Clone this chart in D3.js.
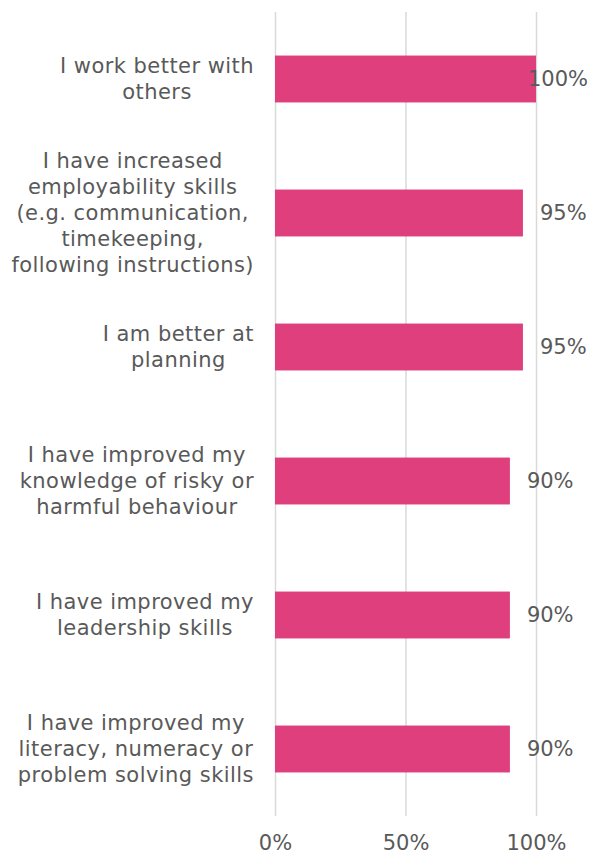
<!DOCTYPE html>
<html>
<head>
<meta charset="utf-8">
<script src="https://cdn.jsdelivr.net/npm/d3@7"></script>
<style>
  html, body { margin: 0; padding: 0; background: #ffffff; }
  svg { display: block; }
  text { font-family: "DejaVu Sans", Verdana, sans-serif; fill: #595959; }
</style>
</head>
<body>
<svg id="chart" width="590" height="854"></svg>
<script>
// Survey statements (line breaks as wrapped in the label column)
const categories = [
  "I work better with\nothers",
  "I have increased\nemployability skills\n(e.g. communication,\ntimekeeping,\nfollowing instructions)",
  "I am better at\nplanning",
  "I have improved my\nknowledge of risky or\nharmful behaviour",
  "I have improved my\nleadership skills",
  "I have improved my\nliteracy, numeracy or\nproblem solving skills"
];
// Share of respondents agreeing
const values = [1.00, 0.95, 0.95, 0.90, 0.90, 0.90];
// Axis ticks
const tickValues = [0, 0.5, 1];
const tickLabels = ["0%", "50%", "100%"];

const W = 590, H = 854;
const plot = { left: 275, right: 536, top: 12, bottom: 816 };
const labelRight = 254;
const valueLimit = 588;
const fontSize = 21;
const lineHeight = 26;
const barColor = "#E03F7E";

const svg = d3.select("#chart");

const x = d3.scaleLinear().domain([0, 1]).range([plot.left, plot.right]);
const y = d3.scaleBand()
  .domain(categories)
  .range([plot.top, plot.bottom])
  .paddingInner(0.65)
  .paddingOuter(0.325);

// Vertical gridlines and bottom tick labels
const axis = d3.axisBottom(x)
  .tickValues(tickValues)
  .tickFormat((d, i) => tickLabels[i])
  .tickSize(-(plot.bottom - plot.top))
  .tickPadding(19);

const gAxis = svg.append("g")
  .attr("transform", `translate(0,${plot.bottom})`)
  .call(axis);
gAxis.select(".domain").remove();
gAxis.selectAll(".tick line")
  .attr("stroke", "#d9d9d9")
  .attr("stroke-width", 1.5);
gAxis.selectAll(".tick text")
  .attr("font-size", fontSize)
  .attr("fill", "#595959")
  .style("font-family", '"DejaVu Sans", Verdana, sans-serif');

// Bars
svg.append("g")
  .selectAll("rect")
  .data(categories)
  .join("rect")
  .attr("x", x(0))
  .attr("y", d => y(d))
  .attr("width", (d, i) => x(values[i]) - x(0))
  .attr("height", y.bandwidth())
  .attr("fill", barColor);

// Value labels: outside the bar end, kept inside the chart area
const valueLabels = svg.append("g")
  .selectAll("text")
  .data(categories)
  .join("text")
  .attr("font-size", fontSize)
  .attr("dominant-baseline", "central")
  .attr("y", d => y(d) + y.bandwidth() / 2)
  .text((d, i) => Math.round(values[i] * 100) + "%");
valueLabels.each(function (d, i) {
  const w = this.getComputedTextLength();
  const px = Math.min(x(values[i]) + 17, valueLimit - w);
  d3.select(this).attr("x", px);
});

// Category labels: each block centred on its own lines, right-aligned to the axis
const catGroup = svg.append("g");
categories.forEach((c, i) => {
  const lines = c.split("\n");
  const cy = y(c) + y.bandwidth() / 2;
  const t = catGroup.append("text")
    .attr("font-size", fontSize)
    .attr("letter-spacing", 0.45)
    .attr("text-anchor", "middle");
  const firstBaseline = cy - ((lines.length - 1) * lineHeight) / 2 + fontSize * 0.34;
  lines.forEach((ln, k) => {
    t.append("tspan")
      .attr("y", firstBaseline + k * lineHeight)
      .text(ln);
  });
  let maxW = 0;
  t.selectAll("tspan").each(function () {
    maxW = Math.max(maxW, this.getComputedTextLength());
  });
  t.selectAll("tspan").attr("x", labelRight - maxW / 2);
});
</script>
</body>
</html>
